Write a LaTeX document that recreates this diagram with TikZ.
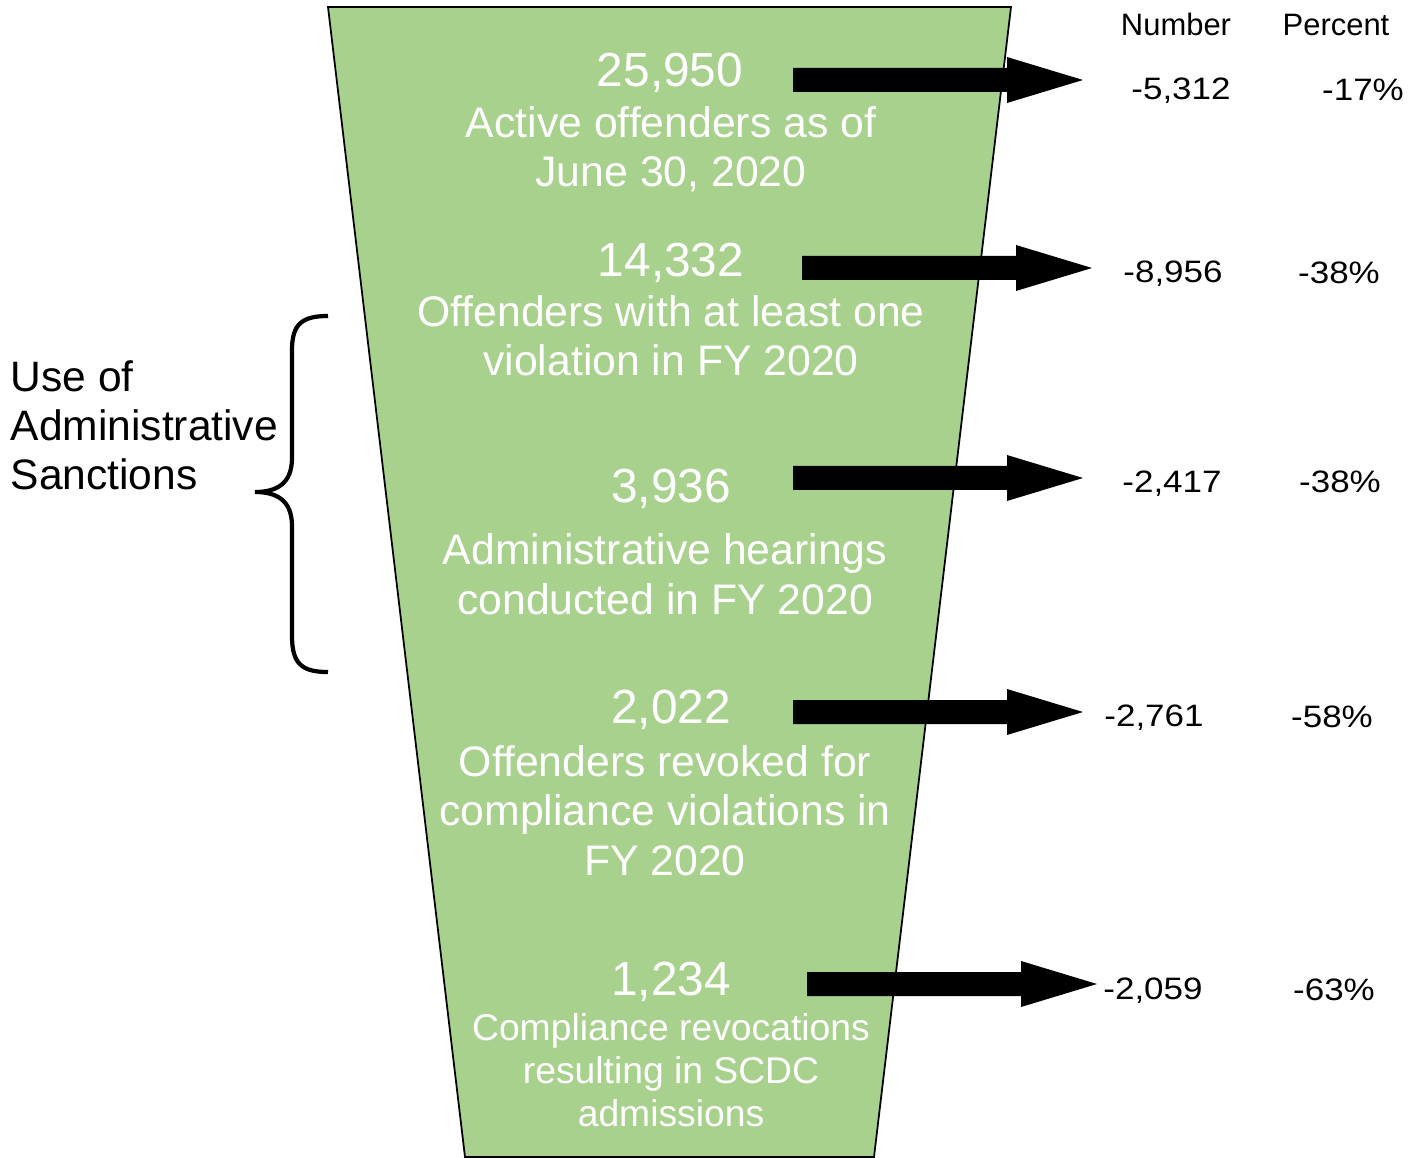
\documentclass[tikz,border=0pt]{standalone}
\usepackage{fontspec}
\setmainfont{Liberation Sans}
\newfontfamily\widesans[FakeStretch=1.13]{Liberation Sans}
\definecolor{funnelGreen}{HTML}{A9D18E}

\begin{document}
\begin{tikzpicture}[x=0.01cm, y=-0.01cm,
    every node/.style={inner sep=0pt},
    count/.style={font=\fontsize{13.6}{15}\selectfont, text=white, anchor=base},
    stage/.style={font=\fontsize{12.15}{13.94}\selectfont, text=white, align=center, anchor=base},
    smallstage/.style={stage, font=\fontsize{10.6}{12.2}\selectfont},
    head/.style={font=\fontsize{8.8}{10}\selectfont, anchor=base},
    change/.style={font=\widesans\fontsize{8.8}{10}\selectfont, anchor=base}]
  \useasboundingbox (0,0) rectangle (1421,1158);

  % funnel
  \filldraw[fill=funnelGreen, draw=black, line width=0.5pt]
    (328,7) -- (1011,7) -- (874,1157) -- (465,1157) -- cycle;

  % block arrows
  \foreach \x/\y in {793/80, 802/268, 793/478, 793/712, 807/984}
    \fill (\x,\y-12) -- (\x+214,\y-12) -- (\x+214,\y-23) -- (\x+290,\y)
      -- (\x+214,\y+23) -- (\x+214,\y+12) -- (\x,\y+12) -- cycle;

  % stage texts sit on the baseline of their last line
  \node[count] (active) at (670,87) {25,950};
  \node[stage] (activeText) at (671,187) {Active offenders as of\\June 30, 2020};
  \node[count] (violation) at (671,277) {14,332};
  \node[stage] (violationText) at (671,376) {Offenders with at least one\\violation in FY 2020};
  \node[count] (hearing) at (671,502) {3,936};
  \node[stage] (hearingText) at (665,614) {Administrative hearings\\conducted in FY 2020};
  \node[count] (revoked) at (671,723) {2,022};
  \node[stage] (revokedText) at (665,875) {Offenders revoked for\\compliance violations in\\FY 2020};
  \node[count] (admit) at (671,995) {1,234};
  \node[smallstage] (admitText) at (671,1126) {Compliance revocations\\resulting in SCDC\\admissions};

  % change columns
  \node[head] (numHead) at (1176,36) {Number};
  \node[head] (pctHead) at (1336,36) {Percent};
  \foreach \i/\y/\nx/\num/\px/\pct in {1/100/1181/{-5,312}/1363/{-17\%}, 2/283/1173/{-8,956}/1339/{-38\%},
      3/492/1172/{-2,417}/1340/{-38\%}, 4/726/1154/{-2,761}/1332/{-58\%}, 5/999/1153/{-2,059}/1334/{-63\%}} {
    \node[change] (num\i) at (\nx,\y) {\num};
    \node[change] (pct\i) at (\px,\y+1) {\pct};
  }

  % brace
  \draw[line width=1.2pt] (328,316) .. controls (302,316) and (292,324) .. (292,350) -- (292,458)
    .. controls (292,485) and (275,492) .. (255,492)
    .. controls (275,492) and (292,499) .. (292,526) -- (292,636)
    .. controls (292,664) and (302,672) .. (328,672);
  \node[font=\fontsize{12.1}{13.94}\selectfont, align=left, anchor=base west] (sanctions) at (10,490)
    {Use of\\Administrative\\Sanctions};
\end{tikzpicture}
\end{document}
